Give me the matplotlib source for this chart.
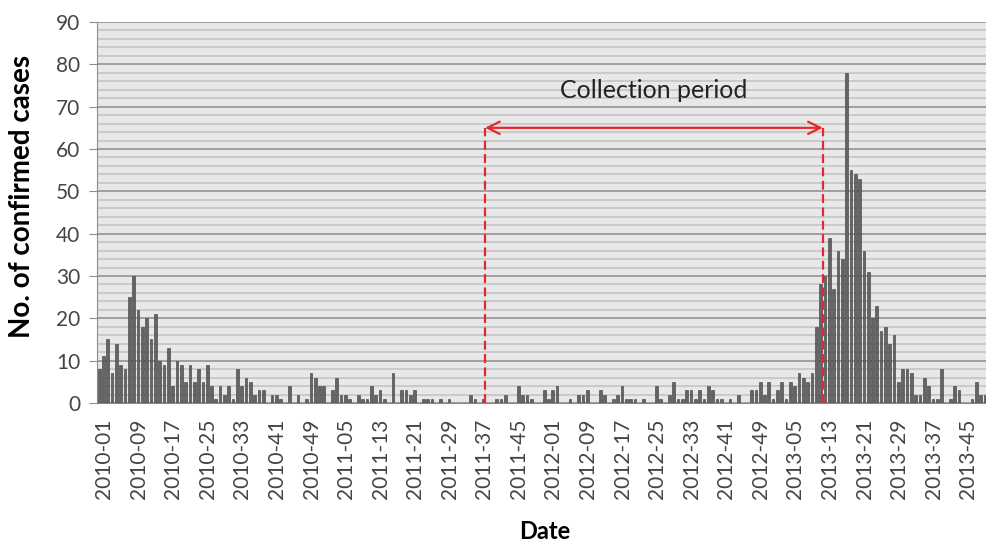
import numpy as np
import matplotlib
matplotlib.use('Agg')
import matplotlib.pyplot as plt
import matplotlib.transforms as mtrans

plt.rcParams['font.family'] = ['Lato', 'DejaVu Sans']

# weekly confirmed cases, 2010-01 .. 2013-50
cases = [8, 11, 15, 7, 14, 9, 8, 25, 30, 22, 18, 20, 15, 21, 10, 9, 13, 4, 10, 9,
         5, 9, 5, 8, 5, 9, 4, 1, 4, 2, 4, 1, 8, 4, 6, 5, 2, 3, 3, 0,
         2, 2, 1, 0, 4, 0, 2, 0, 1, 7, 6, 4, 4, 0, 3, 6, 2, 2, 1, 0,
         2, 1, 1, 4, 2, 3, 1, 0, 7, 0, 3, 3, 2, 3, 0, 1, 1, 1, 0, 1,
         0, 1, 0, 0, 0, 0, 2, 1, 0, 1, 0, 0, 1, 1, 2, 0, 0, 4, 2, 2,
         1, 0, 0, 3, 1, 3, 4, 0, 0, 1, 0, 2, 2, 3, 0, 0, 3, 2, 0, 1,
         2, 4, 1, 1, 1, 0, 1, 0, 0, 4, 1, 0, 2, 5, 1, 1, 3, 3, 1, 3,
         1, 4, 3, 1, 1, 0, 1, 0, 2, 0, 0, 3, 3, 5, 2, 5, 1, 3, 5, 1,
         5, 4, 7, 6, 5, 7, 18, 28, 30, 39, 27, 36, 34, 78, 55, 54, 53, 36, 31, 20,
         23, 17, 18, 14, 16, 5, 8, 8, 7, 2, 2, 6, 4, 1, 1, 8, 0, 1, 4, 3,
         0, 0, 1, 5, 2, 2]

years = [2010, 2011, 2012, 2013]
weeks = [f'{y}-{w:02d}' for y in years for w in range(1, 53)][:len(cases)]

# collection period (in week-index units) and arrow height
period_start = 89.3
period_end = 167.5
period_level = 65
red = '#e4282c'

fig = plt.figure(figsize=(9.87, 5.48), dpi=100)
ax = fig.add_axes([0.0983, 0.2646, 0.9017, 0.6953])

x = np.arange(len(cases))
ax.bar(x, cases, width=0.62, color='#646464', edgecolor='#3a3a3a', linewidth=0.4, zorder=3)

ax.set_xlim(-0.5, len(cases) - 0.5)
ax.set_ylim(0, 90)
ax.set_facecolor('#e8e8e8')
ax.set_yticks(range(0, 91, 10))
ax.set_yticks(range(0, 91, 2), minor=True)
ax.grid(axis='y', which='major', color='#9a9a9a', lw=1.3, zorder=0)
ax.grid(axis='y', which='minor', color='#c4c4c4', lw=1.2, zorder=0)
ax.set_axisbelow(True)
ax.tick_params(axis='y', which='minor', length=0)
ax.tick_params(axis='y', which='major', length=6, color='#8c8c8c', labelsize=15,
               labelcolor='#454545', pad=6)

ax.set_xticks(x[::8])
ax.set_xticklabels(weeks[::8], rotation=90)
ax.tick_params(axis='x', length=0, pad=11, labelsize=15, labelcolor='#454545')
shift = mtrans.ScaledTranslation(5 / 100, 0, fig.dpi_scale_trans)
for lab in ax.get_xticklabels():
    lab.set_transform(lab.get_transform() + shift)

for s in ['top', 'right']:
    ax.spines[s].set_visible(False)
for s in ['left', 'bottom']:
    ax.spines[s].set_color('#8c8c8c')

# collection period markers
ax.vlines([period_start, period_end], 0, period_level, colors=red,
          linestyles=(0, (4, 2)), lw=1.6, zorder=4)
ax.annotate('', xy=(period_start, period_level), xytext=(period_end, period_level),
            arrowprops=dict(arrowstyle='<->', color=red, lw=1.6, mutation_scale=22,
                            shrinkA=0, shrinkB=0), zorder=5)
ax.text((period_start + period_end) / 2, 73.7, 'Collection period',
        ha='center', va='center', fontsize=18, color='#222222')

fig.text(0.022, 0.642, 'No. of confirmed cases', rotation=90, ha='center', va='center',
         fontsize=20, fontweight='bold')
fig.text(0.552, 0.03, 'Date', ha='center', va='center', fontsize=17, fontweight='bold')

fig.savefig('out.png', dpi=100)
